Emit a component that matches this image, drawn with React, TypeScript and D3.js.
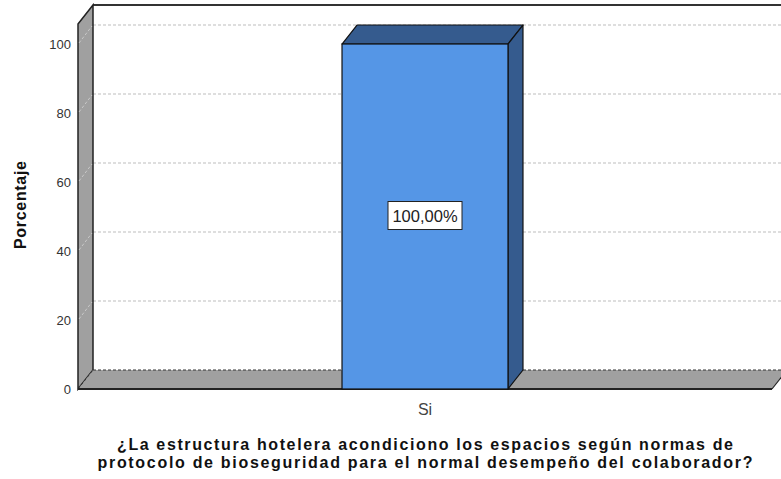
import React, { useEffect, useRef } from "react";
import * as d3 from "d3";

const categories = ["Si"];
const percentages = [100];
const barLabels = ["100,00%"];
const yTicks = [0, 20, 40, 60, 80, 100];
const yTitle = "Porcentaje";
const xTitleLines = [
  "¿La estructura hotelera acondiciono los espacios según normas de",
  "protocolo de bioseguridad para el normal desempeño del colaborador?",
];
const xTitleWidths = [616, 655];

const W = 781;
const H = 479;
const FONT = "'Liberation Sans', Arial, sans-serif";

const App = () => {
  const ref = useRef<SVGSVGElement>(null);

  useEffect(() => {
    const svg = d3.select(ref.current);
    svg.selectAll("*").remove();

    const left = 78;
    const right = 772;
    const bottom = 389;
    const top = 24;
    const dx = 15;
    const dy = -19;

    const y = d3.scaleLinear().domain([0, 105.8]).range([bottom, top]);
    const x = d3.scaleBand<string>().domain(categories).range([left, right]).padding(0.614);

    const g = svg.append("g");

    // back wall gridlines
    g.selectAll(".grid")
      .data(yTicks.filter((t) => t > 0))
      .join("line")
      .attr("x1", left + dx)
      .attr("x2", W)
      .attr("y1", (d) => y(d) + dy)
      .attr("y2", (d) => y(d) + dy)
      .attr("stroke", "#bdbdbd")
      .attr("stroke-width", 1)
      .attr("stroke-dasharray", "3,2");

    // top back edge
    g.append("line")
      .attr("x1", left + dx)
      .attr("x2", W)
      .attr("y1", y(105.8) + dy)
      .attr("y2", y(105.8) + dy)
      .attr("stroke", "#333")
      .attr("stroke-width", 2);

    // left wall
    g.append("path")
      .attr(
        "d",
        `M${left},${y(105.8)} L${left + dx},${y(105.8) + dy} L${left + dx},${bottom + dy} L${left},${bottom} Z`
      )
      .attr("fill", "#a0a0a0")
      .attr("stroke", "#222")
      .attr("stroke-width", 1.5);

    g.selectAll(".wallgrid")
      .data(yTicks.filter((t) => t > 0))
      .join("line")
      .attr("x1", left + 1)
      .attr("x2", left + dx - 1)
      .attr("y1", (d) => y(d) - 1)
      .attr("y2", (d) => y(d) + dy + 1)
      .attr("stroke", "#c8c8c8")
      .attr("stroke-width", 1)
      .attr("stroke-dasharray", "3,2");

    // floor
    g.append("path")
      .attr(
        "d",
        `M${left},${bottom} L${left + dx},${bottom + dy} L${right + dx},${bottom + dy} L${right},${bottom} Z`
      )
      .attr("fill", "#a0a0a0")
      .attr("stroke", "none");
    g.append("line")
      .attr("x1", left + dx)
      .attr("x2", right + dx)
      .attr("y1", bottom + dy)
      .attr("y2", bottom + dy)
      .attr("stroke", "#333")
      .attr("stroke-dasharray", "3,2");
    g.append("line")
      .attr("x1", left)
      .attr("x2", left + dx)
      .attr("y1", bottom)
      .attr("y2", bottom + dy)
      .attr("stroke", "#333")
      .attr("stroke-dasharray", "3,2");
    g.append("line")
      .attr("x1", right)
      .attr("x2", right + dx)
      .attr("y1", bottom)
      .attr("y2", bottom + dy)
      .attr("stroke", "#222")
      .attr("stroke-width", 1.2);
    g.append("line")
      .attr("x1", left)
      .attr("x2", right)
      .attr("y1", bottom)
      .attr("y2", bottom)
      .attr("stroke", "#222")
      .attr("stroke-width", 2);

    // bars
    const bw = x.bandwidth();
    categories.forEach((c, i) => {
      const x0 = x(c)!;
      const x1 = x0 + bw;
      const yt = y(percentages[i]);
      const bar = g.append("g");
      bar
        .append("path")
        .attr("d", `M${x0},${yt} L${x0 + dx},${yt + dy} L${x1 + dx},${yt + dy} L${x1},${yt} Z`)
        .attr("fill", "#355b8e")
        .attr("stroke", "#111")
        .attr("stroke-width", 1.2)
        .attr("stroke-linejoin", "round");
      bar
        .append("path")
        .attr("d", `M${x1},${yt} L${x1 + dx},${yt + dy} L${x1 + dx},${bottom + dy} L${x1},${bottom} Z`)
        .attr("fill", "#355b8e")
        .attr("stroke", "#111")
        .attr("stroke-width", 1.2)
        .attr("stroke-linejoin", "round");
      bar
        .append("rect")
        .attr("x", x0)
        .attr("y", yt)
        .attr("width", bw)
        .attr("height", bottom - yt)
        .attr("fill", "#5596e6")
        .attr("stroke", "#111")
        .attr("stroke-width", 1.2);

      const cx = x0 + bw / 2;
      const cy = (yt + bottom) / 2;
      bar
        .append("rect")
        .attr("x", cx - 37)
        .attr("y", cy - 15)
        .attr("width", 74)
        .attr("height", 28)
        .attr("fill", "#fff")
        .attr("stroke", "#222")
        .attr("stroke-width", 1);
      bar
        .append("text")
        .attr("x", cx)
        .attr("y", cy - 1)
        .attr("text-anchor", "middle")
        .attr("dominant-baseline", "central")
        .attr("font-family", FONT)
        .attr("font-size", 16.5)
        .attr("fill", "#222")
        .text(barLabels[i]);

      g.append("text")
        .attr("x", cx)
        .attr("y", 415)
        .attr("text-anchor", "middle")
        .attr("font-family", FONT)
        .attr("font-size", 16)
        .attr("fill", "#444")
        .text(c);
    });

    // y tick labels
    g.selectAll(".ytick")
      .data(yTicks)
      .join("text")
      .attr("x", 71)
      .attr("y", (d) => y(d))
      .attr("dy", "0.35em")
      .attr("text-anchor", "end")
      .attr("font-family", FONT)
      .attr("font-size", 13)
      .attr("fill", "#333")
      .text((d) => d);

    // y title
    g.append("text")
      .attr("transform", `translate(26,205) rotate(-90)`)
      .attr("text-anchor", "middle")
      .attr("font-family", FONT)
      .attr("font-size", 16)
      .attr("font-weight", "bold")
      .attr("fill", "#111")
      .attr("textLength", 88)
      .attr("lengthAdjust", "spacing")
      .text(yTitle);

    // x title
    g.selectAll(".xtitle")
      .data(xTitleLines)
      .join("text")
      .attr("x", 425)
      .attr("y", (_d, i) => 450 + i * 18)
      .attr("text-anchor", "middle")
      .attr("font-family", FONT)
      .attr("font-size", 16)
      .attr("font-weight", "bold")
      .attr("fill", "#111")
      .attr("textLength", (_d, i) => xTitleWidths[i])
      .attr("lengthAdjust", "spacing")
      .text((d) => d);
  }, []);

  return (
    <svg
      ref={ref}
      width={W}
      height={H}
      style={{ position: "absolute", left: 0, top: 0, background: "#fff" }}
    />
  );
};

export default App;
